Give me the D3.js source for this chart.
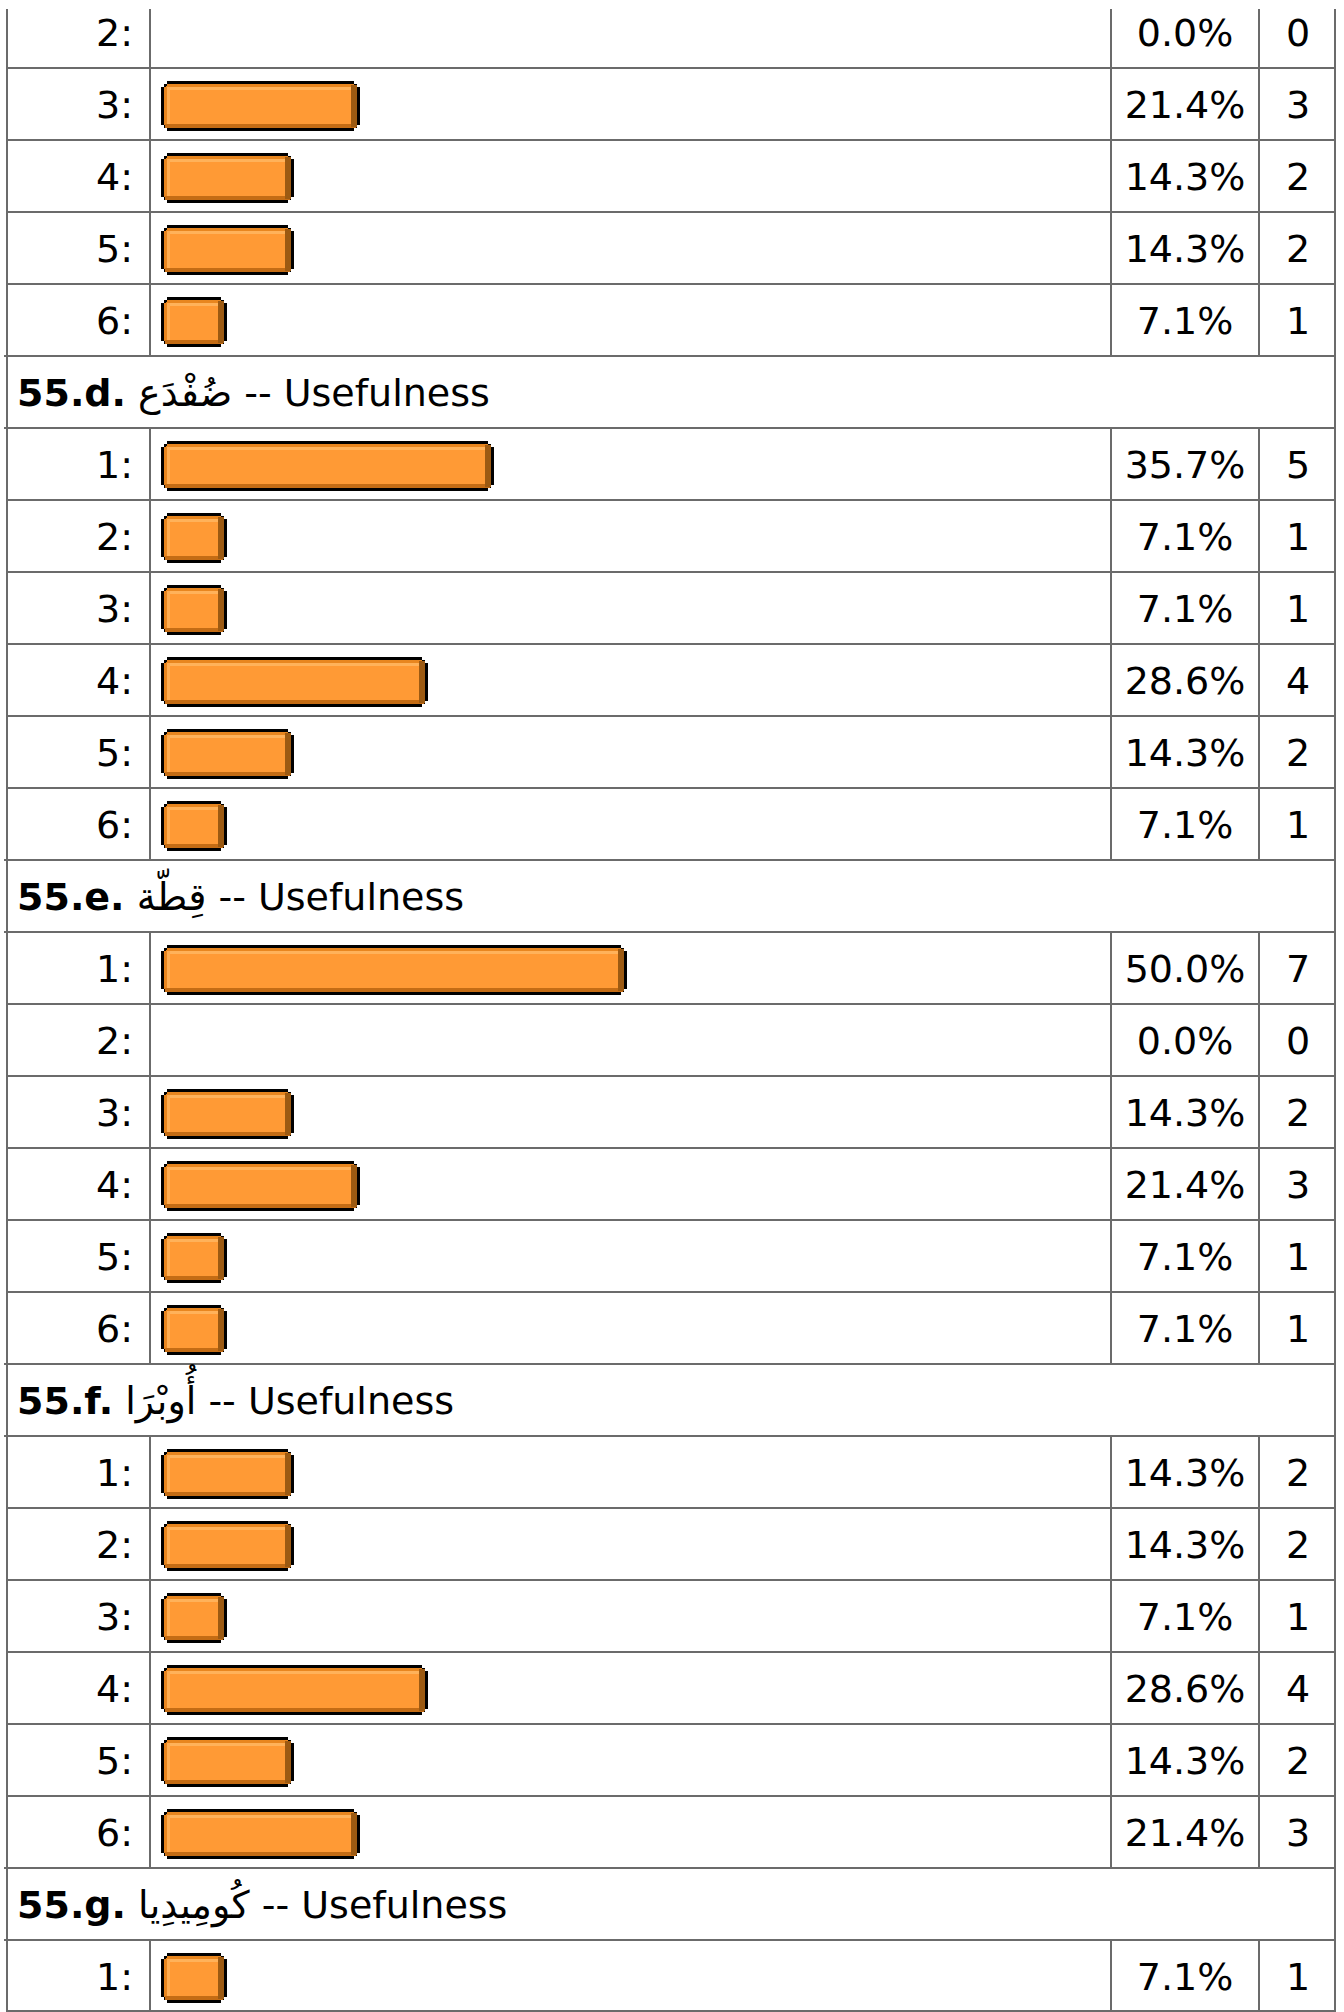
<!DOCTYPE html>
<html>
<head>
<meta charset="utf-8">
<script src="https://cdn.jsdelivr.net/npm/d3@7/dist/d3.min.js"></script>
<style>
  html, body { margin: 0; padding: 0; background: #fff; }
  svg { display: block; }
  text { font-family: "DejaVu Sans", Verdana, sans-serif; fill: #000; }
</style>
</head>
<body>
<svg id="chart" width="1344" height="2012"></svg>
<script>
// Tail of question 55.c (rows 2–6)
const cLabels = ["2:", "3:", "4:", "5:", "6:"];
const cPct    = [0.0, 21.4, 14.3, 14.3, 7.1];
const cCount  = [0, 3, 2, 2, 1];

// Six-point rating rows
const scaleLabels = ["1:", "2:", "3:", "4:", "5:", "6:"];

const dPct   = [35.7, 7.1, 7.1, 28.6, 14.3, 7.1];
const dCount = [5, 1, 1, 4, 2, 1];

const ePct   = [50.0, 0.0, 14.3, 21.4, 7.1, 7.1];
const eCount = [7, 0, 2, 3, 1, 1];

const fPct   = [14.3, 14.3, 7.1, 28.6, 14.3, 21.4];
const fCount = [2, 2, 1, 4, 2, 3];

const gLabels = ["1:"];
const gPct    = [7.1];
const gCount  = [1];

// Section headings
const headerIds   = ["55.d.", "55.e.", "55.f.", "55.g."];
const headerWords = ["ضُفْدَع", "قِطّة", "أُوبْرَا", "كُومِيدِيا"];
const headerTail  = " -- Usefulness";

// Flatten into table rows
const rows = [];
function addData(labels, pct, count) {
  labels.forEach((l, i) => rows.push({ type: "data", label: l, pct: pct[i], count: count[i] }));
}
function addHeader(i) {
  rows.push({ type: "header", id: headerIds[i], word: headerWords[i] });
}
addData(cLabels, cPct, cCount);
addHeader(0); addData(scaleLabels, dPct, dCount);
addHeader(1); addData(scaleLabels, ePct, eCount);
addHeader(2); addData(scaleLabels, fPct, fCount);
addHeader(3); addData(gLabels, gPct, gCount);

// Layout
const W = 1344, H = 2012;
const rowH = 72;
const tableTop = 9;
const xLeft = 7, xLabelDiv = 150, xPctDiv = 1111, xCountDiv = 1259, xRight = 1335;
const barX0 = 161, barTopPad = 13, barH = 50;
const gridColor = "#6b6b6b";
const fontSize = 38;

const rowY = d3.scaleLinear().domain([0, rows.length]).range([-4, -4 + rowH * rows.length]);
const barW = d3.scaleLinear().domain([0, 50]).range([0, 466]);
const fmtPct = d => d3.format(".1f")(d) + "%";

const svg = d3.select("#chart");
svg.append("rect").attr("width", W).attr("height", H).attr("fill", "#fff");

const grid = svg.append("g").attr("stroke", gridColor).attr("stroke-width", 2).attr("shape-rendering", "crispEdges");

// horizontal rules between rows
rows.forEach((r, i) => {
  if (i === 0) return;
  const nearHeader = r.type === "header" || rows[i - 1].type === "header";
  grid.append("line")
    .attr("x1", nearHeader ? 4 : xLeft).attr("x2", xRight + 1)
    .attr("y1", rowY(i)).attr("y2", rowY(i));
});
grid.append("line").attr("x1", xLeft).attr("x2", xRight + 1)
  .attr("y1", rowY(rows.length) - 1).attr("y2", rowY(rows.length) - 1);

// outer borders
grid.append("line").attr("x1", xLeft).attr("x2", xLeft).attr("y1", tableTop).attr("y2", H);
grid.append("line").attr("x1", xRight).attr("x2", xRight).attr("y1", tableTop).attr("y2", H);

// inner column rules only on data rows
rows.forEach((r, i) => {
  if (r.type !== "data") return;
  const y0 = Math.max(tableTop, rowY(i)), y1 = rowY(i + 1);
  [xLabelDiv, xPctDiv, xCountDiv].forEach(x => {
    grid.append("line").attr("x1", x).attr("x2", x).attr("y1", y0).attr("y2", y1);
  });
});

// stepped-corner outline for the pixel-style bars
function stepPath(x0, y0, x1, y1, s) {
  return [
    [x0 + 2 * s, y0], [x1 - 2 * s, y0], [x1 - 2 * s, y0 + s], [x1 - s, y0 + s], [x1 - s, y0 + 2 * s], [x1, y0 + 2 * s],
    [x1, y1 - 2 * s], [x1 - s, y1 - 2 * s], [x1 - s, y1 - s], [x1 - 2 * s, y1 - s], [x1 - 2 * s, y1],
    [x0 + 2 * s, y1], [x0 + 2 * s, y1 - s], [x0 + s, y1 - s], [x0 + s, y1 - 2 * s], [x0, y1 - 2 * s],
    [x0, y0 + 2 * s], [x0 + s, y0 + 2 * s], [x0 + s, y0 + s], [x0 + 2 * s, y0 + s]
  ].map(p => p.join(",")).join(" ");
}

const bars = svg.append("g").attr("shape-rendering", "crispEdges");
rows.forEach((r, i) => {
  if (r.type !== "data" || r.pct <= 0) return;
  const x0 = barX0, x1 = barX0 + barW(r.pct);
  const y0 = rowY(i) + barTopPad, y1 = y0 + barH;
  const g = bars.append("g");
  g.append("polygon").attr("points", stepPath(x0, y0, x1, y1, 3)).attr("fill", "#000");
  // inner body
  g.append("polygon").attr("points", stepPath(x0 + 3, y0 + 3, x1 - 3, y1 - 3, 1.5)).attr("fill", "#e8861f");
  g.append("rect").attr("x", x0 + 6).attr("y", y0 + 6).attr("width", x1 - x0 - 12).attr("height", y1 - y0 - 12).attr("fill", "#ff9a35");
  // highlight along top and left
  g.append("rect").attr("x", x0 + 6).attr("y", y0 + 6).attr("width", x1 - x0 - 12).attr("height", 3).attr("fill", "#ffb25a");
  g.append("rect").attr("x", x0 + 6).attr("y", y0 + 6).attr("width", 3).attr("height", y1 - y0 - 12).attr("fill", "#ffad52");
  // shade along bottom and right
  g.append("rect").attr("x", x0 + 4).attr("y", y1 - 7).attr("width", x1 - x0 - 8).attr("height", 4).attr("fill", "#c46c14");
  g.append("rect").attr("x", x1 - 9).attr("y", y0 + 4).attr("width", 6).attr("height", y1 - y0 - 8).attr("fill", "#9c5a12");
});

// text
const txt = svg.append("g").attr("font-size", fontSize);
rows.forEach((r, i) => {
  const base = rowY(i) + 50;
  if (r.type === "data") {
    txt.append("text").attr("x", 133).attr("y", base).attr("text-anchor", "end").text(r.label);
    txt.append("text").attr("x", (xPctDiv + xCountDiv) / 2).attr("y", base).attr("text-anchor", "middle").text(fmtPct(r.pct));
    txt.append("text").attr("x", (xCountDiv + xRight) / 2 + 1).attr("y", base).attr("text-anchor", "middle").text(r.count);
  } else {
    const t = txt.append("text").attr("x", 17).attr("y", base).attr("direction", "ltr");
    t.append("tspan").attr("font-weight", "bold").text(r.id);
    t.append("tspan").text(" " + r.word + headerTail);
  }
});
</script>
</body>
</html>
